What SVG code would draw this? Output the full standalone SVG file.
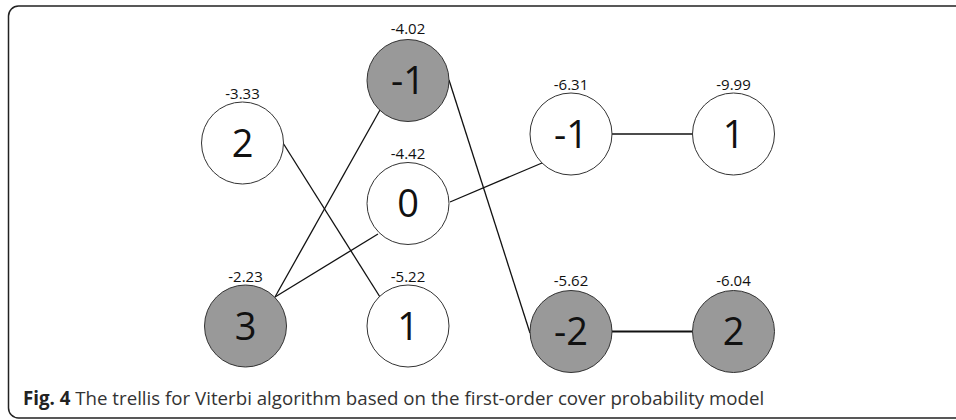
<svg xmlns="http://www.w3.org/2000/svg" width="956" height="420" viewBox="0 0 956 420">
  <style>
    .frame { fill: none; stroke: #222; stroke-width: 1.5; }
    .state { stroke: #333; stroke-width: 1; }
    .white { fill: #ffffff; }
    .grey { fill: #999999; }
    .val { font-family: "Open Sans", "DejaVu Sans", sans-serif; font-size: 38px; fill: #111; text-anchor: middle; }
    .score { font-family: "Open Sans", "DejaVu Sans", sans-serif; font-size: 15px; fill: #111; text-anchor: middle; }
    .edge { stroke: #111; stroke-width: 1.3; fill: none; }
    .caption { font-family: "Open Sans", "DejaVu Sans", sans-serif; font-size: 18.7px; fill: #333; }
  </style>
  <rect width="956" height="420" fill="#ffffff"/>
  <rect class="frame" x="8.5" y="6" width="970" height="412" rx="10"/>

  <!-- transitions between trellis states -->
  <g id="connectors">
    <line class="edge" x1="283" y1="143" x2="380" y2="297"/>
    <line class="edge" x1="275" y1="297" x2="380" y2="110"/>
    <line class="edge" x1="275" y1="297" x2="378" y2="234"/>
    <line class="edge" x1="450" y1="202" x2="542" y2="163"/>
    <line class="edge" x1="449" y1="80" x2="530" y2="333"/>
    <line class="edge" x1="612" y1="134" x2="693" y2="134"/>
    <line class="edge" x1="612" y1="331.5" x2="693" y2="331.5" style="stroke-width:1.8"/>
  </g>

  <!-- column 1 -->
  <g id="s1_2">
    <circle class="state white" cx="242.5" cy="143" r="41"/>
    <text class="val" x="242.5" y="156.5">2</text>
    <text class="score" x="242.5" y="99">-3.33</text>
  </g>
  <g id="s1_3">
    <circle class="state grey" cx="245.5" cy="326" r="41"/>
    <text class="val" x="245.5" y="339.5">3</text>
    <text class="score" x="245.5" y="282">-2.23</text>
  </g>

  <!-- column 2 -->
  <g id="s2_m1">
    <circle class="state grey" cx="408" cy="80.5" r="41"/>
    <text class="val" x="408" y="94">-1</text>
    <text class="score" x="408" y="34">-4.02</text>
  </g>
  <g id="s2_0">
    <circle class="state white" cx="408" cy="203.5" r="41"/>
    <text class="val" x="408" y="217">0</text>
    <text class="score" x="408" y="159">-4.42</text>
  </g>
  <g id="s2_1">
    <circle class="state white" cx="408" cy="326" r="41"/>
    <text class="val" x="408" y="339.5">1</text>
    <text class="score" x="408" y="282">-5.22</text>
  </g>

  <!-- column 3 -->
  <g id="s3_m1">
    <circle class="state white" cx="571" cy="134" r="41"/>
    <text class="val" x="571" y="147.5">-1</text>
    <text class="score" x="571" y="90">-6.31</text>
  </g>
  <g id="s3_m2">
    <circle class="state grey" cx="571" cy="331.5" r="41"/>
    <text class="val" x="571" y="345">-2</text>
    <text class="score" x="571" y="286">-5.62</text>
  </g>

  <!-- column 4 -->
  <g id="s4_1">
    <circle class="state white" cx="733.5" cy="134" r="41"/>
    <text class="val" x="733.5" y="147.5">1</text>
    <text class="score" x="733.5" y="90">-9.99</text>
  </g>
  <g id="s4_2">
    <circle class="state grey" cx="733.5" cy="331.5" r="41"/>
    <text class="val" x="733.5" y="345">2</text>
    <text class="score" x="733.5" y="286">-6.04</text>
  </g>

  <text class="caption" x="23" y="405"><tspan font-weight="bold" fill="#222">Fig. 4</tspan> The trellis for Viterbi algorithm based on the first-order cover probability model</text>
</svg>
